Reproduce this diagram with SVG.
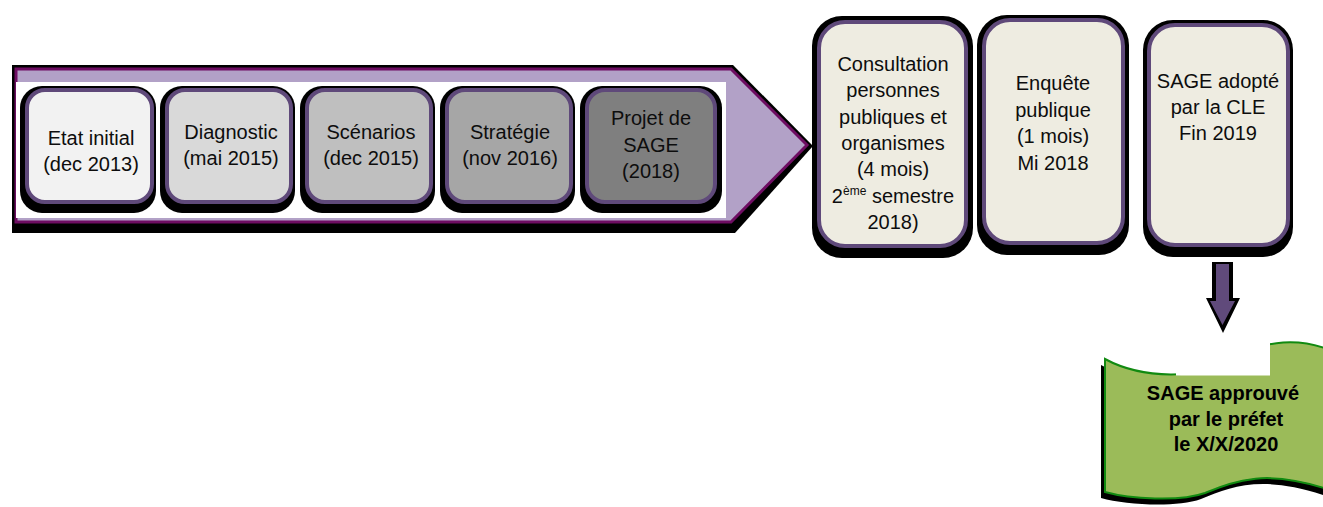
<svg xmlns="http://www.w3.org/2000/svg" width="1323" height="507" viewBox="0 0 1323 507">
<style>
.t{font-family:"Liberation Sans",Arial,sans-serif;font-size:20px;fill:#0d0d0d;text-anchor:middle}
.b{font-weight:bold;fill:#000}
.sh{fill:#000}
.ib{stroke:#5f497a;stroke-width:4}
.rb{fill:#eeece1;stroke:#5f497a;stroke-width:4}
.sup{font-size:12px}
</style>
<rect width="1323" height="507" fill="#fff"/>
<g id="timeline-arrow">
<polygon class="sh" points="12,65 733,65 813,146 735,233 12,233"/>
<polygon points="16,69 731,69 807,145 731,222 16,222" fill="#b2a1c7" stroke="#6e0d62" stroke-width="3" stroke-linejoin="miter"/>
<rect x="16" y="82" width="710" height="136" fill="#fff"/>
</g>
<g id="etat-initial">
<rect class="sh" x="20" y="86" width="136" height="127" rx="22"/>
<rect class="ib" x="27" y="90" width="125" height="112" rx="18" fill="#f2f2f2"/>
<text class="t"><tspan x="91" y="145">Etat initial</tspan><tspan x="91" y="171">(dec 2013)</tspan></text>
</g>
<g id="diagnostic">
<rect class="sh" x="160" y="86" width="135" height="127" rx="22"/>
<rect class="ib" x="167" y="90" width="124" height="112" rx="18" fill="#d9d9d9"/>
<text class="t"><tspan x="231" y="139">Diagnostic</tspan><tspan x="231" y="165">(mai 2015)</tspan></text>
</g>
<g id="scenarios">
<rect class="sh" x="300" y="86" width="135" height="127" rx="22"/>
<rect class="ib" x="307" y="90" width="124" height="112" rx="18" fill="#bfbfbf"/>
<text class="t"><tspan x="371" y="139">Scénarios</tspan><tspan x="371" y="165">(dec 2015)</tspan></text>
</g>
<g id="strategie">
<rect class="sh" x="440" y="86" width="135" height="127" rx="22"/>
<rect class="ib" x="447" y="90" width="124" height="112" rx="18" fill="#a6a6a6"/>
<text class="t"><tspan x="510" y="139">Stratégie</tspan><tspan x="510" y="165">(nov 2016)</tspan></text>
</g>
<g id="projet-sage">
<rect class="sh" x="580" y="86" width="142" height="127" rx="22"/>
<rect class="ib" x="587" y="90" width="128" height="112" rx="18" fill="#7f7f7f"/>
<text class="t"><tspan x="651" y="125">Projet de</tspan><tspan x="651" y="151.5">SAGE</tspan><tspan x="651" y="178">(2018)</tspan></text>
</g>
<g id="consultation">
<rect class="sh" x="812" y="16" width="161" height="242" rx="30"/>
<rect class="rb" x="819" y="22" width="147" height="224" rx="26"/>
<text class="t"><tspan x="893" y="71">Consultation</tspan><tspan x="893" y="97.3">personnes</tspan><tspan x="893" y="123.7">publiques et</tspan><tspan x="893" y="150">organismes</tspan><tspan x="893" y="176.4">(4 mois)</tspan><tspan x="893" y="202.8">2<tspan class="sup" dy="-8">ème</tspan><tspan dy="8"> semestre</tspan></tspan><tspan x="893" y="229.2">2018)</tspan></text>
</g>
<g id="enquete-publique">
<rect class="sh" x="977" y="15" width="152" height="240" rx="30"/>
<rect class="rb" x="984" y="20" width="139" height="223" rx="26"/>
<text class="t"><tspan x="1053" y="90">Enquête</tspan><tspan x="1053" y="116.5">publique</tspan><tspan x="1053" y="143">(1 mois)</tspan><tspan x="1053" y="169.5">Mi 2018</tspan></text>
</g>
<g id="sage-adopte">
<rect class="sh" x="1143" y="20" width="150" height="237" rx="30"/>
<rect class="rb" x="1149" y="25" width="139" height="220" rx="26"/>
<text class="t"><tspan x="1218" y="87.5">SAGE adopté</tspan><tspan x="1218" y="113.5">par la CLE</tspan><tspan x="1218" y="139.5">Fin 2019</tspan></text>
</g>
<g id="connectors">
<path class="sh" d="M1212,262 H1233 V298 H1240 L1223,333 L1206,298 H1212 Z"/>
<path d="M1216,264 H1229 V301 H1235 L1222.5,325 L1210,301 H1216 Z" fill="#604a7b"/>
</g>
<g id="sage-approuve">
<path class="sh" transform="translate(-4,6)" d="M1105,359 C1140,378 1200,382 1240,356 C1265,340 1300,338 1330,350 L1330,490 C1265,468 1235,481 1205,493 C1180,502 1130,499 1105,492 Z"/>
<path d="M1105,359 C1140,378 1200,382 1240,356 C1265,340 1300,338 1330,350 L1330,490 C1265,468 1235,481 1205,493 C1180,502 1130,499 1105,492 Z" fill="#9bbb59" stroke="#118a11" stroke-width="2"/>
<rect x="1176" y="336" width="94" height="39.5" fill="#fff"/>
<text class="t b"><tspan x="1223" y="400">SAGE approuvé</tspan><tspan x="1226" y="425.5">par le préfet</tspan><tspan x="1226" y="451">le X/X/2020</tspan></text>
</g>
</svg>
